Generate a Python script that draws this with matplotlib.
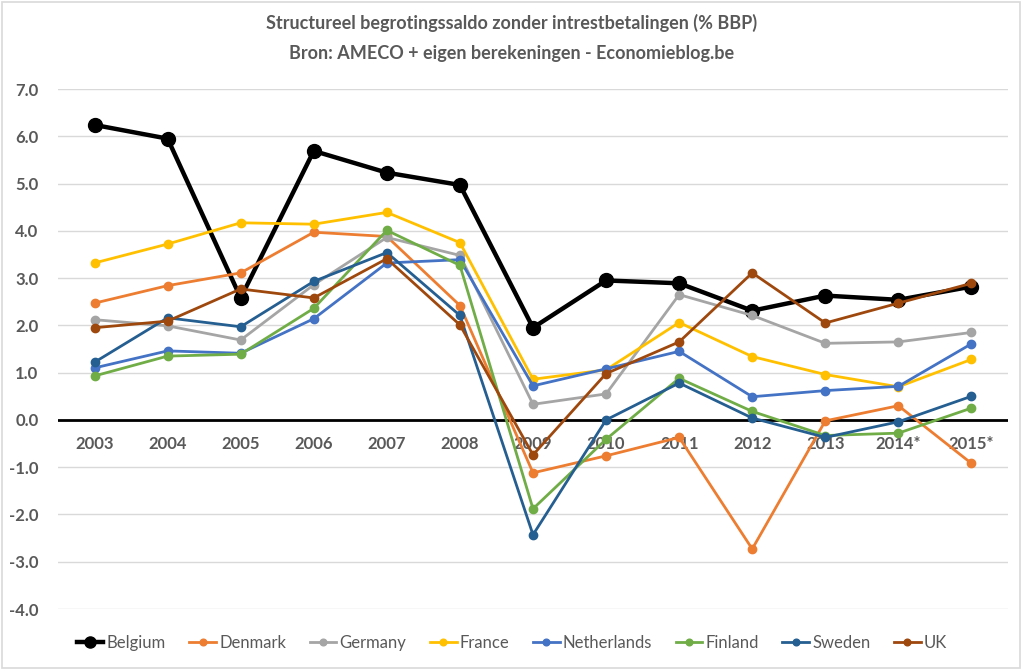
import matplotlib
matplotlib.use("Agg")
import matplotlib.pyplot as plt
from matplotlib.patches import Rectangle
import matplotlib.transforms as mtransforms

years = ["2003", "2004", "2005", "2006", "2007", "2008", "2009", "2010",
         "2011", "2012", "2013", "2014*", "2015*"]

belgium     = [6.24, 5.95, 2.58, 5.69, 5.23, 4.97, 1.95, 2.95, 2.89, 2.31, 2.63, 2.54, 2.82]
denmark     = [2.47, 2.84, 3.11, 3.97, 3.88, 2.42, -1.12, -0.76, -0.37, -2.73, -0.02, 0.30, -0.92]
germany     = [2.12, 1.99, 1.69, 2.86, 3.86, 3.48, 0.33, 0.55, 2.65, 2.21, 1.62, 1.65, 1.85]
france      = [3.32, 3.72, 4.17, 4.14, 4.39, 3.75, 0.86, 1.06, 2.06, 1.34, 0.96, 0.70, 1.28]
netherlands = [1.10, 1.46, 1.41, 2.14, 3.32, 3.39, 0.72, 1.08, 1.45, 0.49, 0.62, 0.71, 1.61]
finland     = [0.93, 1.35, 1.39, 2.36, 4.01, 3.27, -1.88, -0.41, 0.88, 0.18, -0.33, -0.28, 0.25]
sweden      = [1.22, 2.16, 1.97, 2.93, 3.54, 2.21, -2.43, 0.00, 0.78, 0.04, -0.37, -0.04, 0.50]
uk          = [1.95, 2.09, 2.77, 2.58, 3.41, 2.01, -0.74, 0.98, 1.65, 3.11, 2.05, 2.47, 2.89]

series = [
    ("Belgium", belgium, "#000000"),
    ("Denmark", denmark, "#ED7D31"),
    ("Germany", germany, "#A5A5A5"),
    ("France", france, "#FFC000"),
    ("Netherlands", netherlands, "#4472C4"),
    ("Finland", finland, "#70AD47"),
    ("Sweden", sweden, "#255E91"),
    ("UK", uk, "#9E480E"),
]

yticks = [7.0, 6.0, 5.0, 4.0, 3.0, 2.0, 1.0, 0.0, -1.0, -2.0, -3.0, -4.0]

plt.rcParams['font.family'] = ['Lato', 'DejaVu Sans']
txtcol = "#595959"

fig = plt.figure(figsize=(10.24, 6.69), dpi=100)
ax = fig.add_axes([58/1024, 1-609/669, 950/1024, 520/669])

x = list(range(len(years)))
for name, vals, col in series:
    if name == "Belgium":
        ax.plot(x, vals, color=col, lw=3.2, marker='o', markersize=10, label=name,
                solid_joinstyle='round', zorder=3)
    else:
        ax.plot(x, vals, color=col, lw=2.0, marker='o', markersize=6, label=name,
                solid_joinstyle='round', zorder=3)

ax.set_xlim(-0.5, len(years) - 0.5)
ax.set_ylim(-4.0, 7.0)
ax.set_yticks(yticks)
ax.set_yticklabels([f"{v:.1f}" for v in yticks], fontsize=12, fontweight='bold', color=txtcol)
ax.tick_params(axis='y', length=0, pad=14)
ax.set_xticks([])
ax.yaxis.grid(True, color="#D9D9D9", lw=1)
ax.set_axisbelow(True)
for s in ax.spines.values():
    s.set_visible(False)
ax.axhline(0, color="black", lw=2, zorder=2)

offset = mtransforms.offset_copy(ax.transData, fig=fig, x=0, y=-24, units='dots')
for i, lab in enumerate(years):
    ax.text(i, 0, lab, transform=offset, ha='center', va='center', fontsize=12,
            fontweight='bold', color=txtcol, zorder=1)

fig.text(0.5, 1-23/669, "Structureel begrotingssaldo zonder intrestbetalingen (% BBP)",
         ha='center', va='center', fontsize=13, fontweight='bold', color=txtcol)
fig.text(0.5, 1-53/669, "Bron: AMECO + eigen berekeningen - Economieblog.be",
         ha='center', va='center', fontsize=13, fontweight='bold', color=txtcol)

leg = fig.legend(loc='center', bbox_to_anchor=(0.5, 1-643/669), ncol=8, frameon=False,
                 fontsize=12, handlelength=1.6, handletextpad=0.2, columnspacing=1.4,
                 markerscale=0.8)
for t in leg.get_texts():
    t.set_color(txtcol)

fig.patches.append(Rectangle((2/1024, 1/669), 1018/1024, 666/669, transform=fig.transFigure,
                             fill=False, edgecolor="#D9D9D9", lw=1.2))

fig.savefig("out.png", dpi=100, facecolor="white")
